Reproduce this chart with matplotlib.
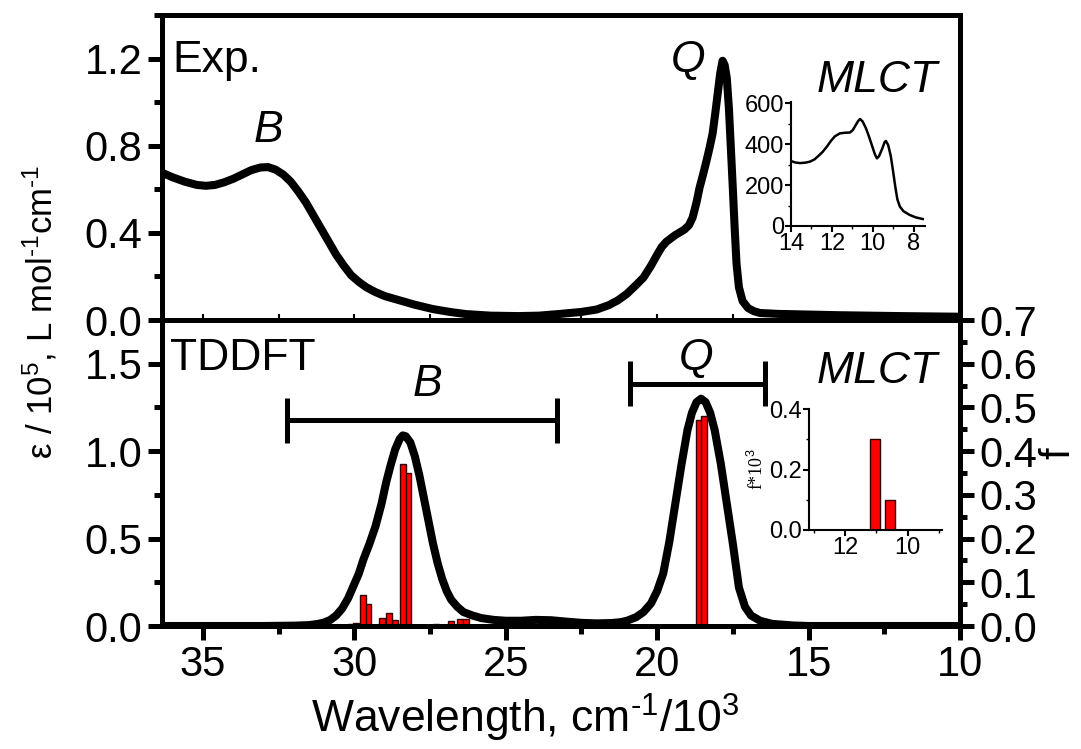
"""
Absorption spectrum: experiment (top) vs TDDFT (bottom) with MLCT insets.
"""

import matplotlib
matplotlib.use("Agg")
import matplotlib.pyplot as plt
from matplotlib.ticker import MultipleLocator

plt.rcParams["font.family"] = ["Liberation Sans", "DejaVu Sans"]
plt.rcParams["mathtext.fontset"] = "custom"
plt.rcParams["mathtext.rm"] = "Liberation Sans"
plt.rcParams["mathtext.it"] = "Liberation Sans:italic"

# experimental spectrum, eps / 1e5
exp_x = [36.35, 36.0, 35.6, 35.2, 34.9, 34.6, 34.3, 34.0, 33.7, 33.4, 33.1,
         32.85, 32.6, 32.35, 32.1, 31.85, 31.6, 31.35, 31.1, 30.85, 30.6,
         30.35, 30.1, 29.85, 29.6, 29.3, 29.0, 28.5, 28.0, 27.4, 26.8, 26.3,
         25.5, 24.6, 23.9, 23.2, 22.5, 22.0, 21.6, 21.3, 21.0, 20.7, 20.45,
         20.2, 20.0, 19.85, 19.69, 19.4, 19.1, 18.95, 18.83, 18.7, 18.6,
         18.48, 18.37, 18.27, 18.17, 18.08, 18.0, 17.92, 17.84, 17.77, 17.7,
         17.63, 17.57, 17.5, 17.44, 17.38, 17.3, 17.18, 17.0, 16.8, 16.6,
         16.0, 15.0, 14.0, 12.0, 10.0]
exp_y = [0.676, 0.655, 0.635, 0.62, 0.616, 0.62, 0.632, 0.648, 0.668, 0.688, 0.7,
         0.702, 0.69, 0.668, 0.635, 0.59, 0.54, 0.48, 0.42, 0.36, 0.30,
         0.25, 0.205, 0.175, 0.15, 0.128, 0.11, 0.09, 0.07, 0.05, 0.036, 0.027,
         0.02, 0.018, 0.02, 0.028, 0.037, 0.048, 0.068, 0.09, 0.12, 0.16, 0.195,
         0.25, 0.30, 0.335, 0.36, 0.39, 0.415, 0.435, 0.47, 0.54, 0.607,
         0.67, 0.731, 0.79, 0.855, 0.95, 1.04, 1.13, 1.19, 1.17, 1.11,
         0.97, 0.80, 0.60, 0.42, 0.26, 0.15, 0.087, 0.055, 0.04, 0.032,
         0.028, 0.025, 0.022, 0.018, 0.015]

# experimental MLCT region (inset), eps in L mol-1 cm-1
mlct_x = [14.0, 13.8, 13.56, 13.3, 13.07, 12.85, 12.68, 12.45, 12.24, 12.05,
          11.85, 11.61, 11.35, 11.12, 10.98, 10.85, 10.72, 10.62, 10.5, 10.35,
          10.2, 10.05, 9.9, 9.8, 9.7, 9.55, 9.42, 9.36, 9.25, 9.12, 9.0, 8.9,
          8.8, 8.68, 8.5, 8.2, 7.9, 7.56]
mlct_y = [317, 310, 307, 309, 314, 325, 340, 362, 388, 415,
          438, 452, 455, 456, 468, 490, 512, 522, 510, 480,
          440, 395, 350, 330, 340, 375, 410, 415, 395, 340, 260, 190,
          130, 95, 72, 54, 42, 34]

# TDDFT broadened spectrum, eps / 1e5
calc_x = [36.35, 33.0, 32.0, 31.5, 31.2, 31.0, 30.8, 30.6, 30.4, 30.2, 30.0,
          29.85, 29.7, 29.5, 29.3, 29.1, 28.95, 28.8, 28.65, 28.5, 28.4, 28.3,
          28.15, 28.0, 27.85, 27.7, 27.55, 27.4, 27.25, 27.1, 26.95, 26.8,
          26.6, 26.4, 26.1, 25.8, 25.4, 25.0, 24.5, 24.0, 23.5, 23.0, 22.5,
          22.0, 21.5, 21.2, 21.0, 20.7, 20.45, 20.2, 20.0, 19.8, 19.6, 19.4,
          19.2, 19.0, 18.85, 18.7, 18.55, 18.4, 18.25, 18.1, 17.9, 17.7, 17.5,
          17.3, 17.1, 16.9, 16.6, 16.2, 15.5, 15.0, 10.0]
calc_y = [0.0, 0.0, 0.002, 0.005, 0.012, 0.02, 0.034, 0.06, 0.10, 0.16, 0.24,
          0.30, 0.38, 0.47, 0.57, 0.70, 0.82, 0.92, 1.01, 1.07, 1.09, 1.085,
          1.05, 0.97, 0.86, 0.73, 0.60, 0.47, 0.36, 0.27, 0.20, 0.15,
          0.11, 0.08, 0.06, 0.045, 0.035, 0.03, 0.03, 0.035, 0.033, 0.025, 0.018,
          0.015, 0.017, 0.022, 0.03, 0.05, 0.08, 0.13, 0.20, 0.30, 0.48, 0.70,
          0.92, 1.12, 1.22, 1.28, 1.30, 1.28, 1.22, 1.12, 0.93, 0.70, 0.47,
          0.22, 0.11, 0.06, 0.03, 0.012, 0.003, 0.0, 0.0]

# TDDFT oscillator strengths
stick_x = [30.1, 29.95, 29.7, 29.55, 29.1, 28.85, 28.65, 28.55, 28.39, 28.24,
           27.55, 27.3, 26.8, 26.5, 26.3, 25.55, 25.35, 24.3, 24.0, 23.6, 23.3,
           18.63, 18.45]
stick_f = [0.004, 0.006, 0.07, 0.05, 0.018, 0.03, 0.014, 0.005, 0.37, 0.35,
           0.003, 0.004, 0.012, 0.015, 0.015, 0.003, 0.002, 0.002, 0.003, 0.002,
           0.003, 0.472, 0.481]

# MLCT transitions, f * 1e3
mlct_stick_x = [11.05, 10.57]
mlct_stick_f = [0.3, 0.1]

# band ranges (bracket markers) in the TDDFT panel
b_range = [32.23, 23.32]
b_level = 1.176
q_range = [20.91, 16.45]
q_level = 1.386

W, H = 1081, 749
fig = plt.figure(figsize=(W / 100, H / 100), dpi=100)

SPINE = 3.6
TICK_FS = 30
TEXT_FS = 32


def fx(px):
    return px / W


def fy(py):
    return 1 - py / H


left, right = 162, 960
ax1 = fig.add_axes([fx(left), fy(320), fx(right - left), (320 - 15) / H])
ax2 = fig.add_axes([fx(left), fy(626), fx(right - left), (626 - 320) / H])

for ax in (ax1, ax2):
    for s in ax.spines.values():
        s.set_linewidth(SPINE)
    ax.set_xlim(36.35, 10)
    ax.xaxis.set_major_locator(MultipleLocator(5))
    ax.xaxis.set_minor_locator(MultipleLocator(2.5))

# top panel: experiment
ax1.plot(exp_x, exp_y, color="black", lw=5.8, solid_joinstyle="round")
ax1.set_ylim(0, 1.4)
ax1.yaxis.set_major_locator(MultipleLocator(0.4))
ax1.yaxis.set_minor_locator(MultipleLocator(0.2))
ax1.tick_params(axis="y", which="major", direction="out", length=10, width=SPINE,
                labelsize=TICK_FS, pad=4)
ax1.tick_params(axis="y", which="minor", direction="out", length=6, width=SPINE)
ax1.tick_params(axis="x", which="both", direction="in", length=4, width=1.5,
                labelbottom=False)
ax1.set_yticks([0.0, 0.4, 0.8, 1.2])
ax1.set_yticklabels(["0.0", "0.4", "0.8", "1.2"])

ax1.text(36.02, 1.19, "Exp.", fontsize=TEXT_FS, ha="left", va="center")
ax1.text(32.85, 0.87, "B", fontsize=TEXT_FS, style="italic", ha="center", va="center")
ax1.text(18.99, 1.19, "Q", fontsize=TEXT_FS, style="italic", ha="center", va="center")
ax1.text(12.72, 1.10, "MLCT", fontsize=TEXT_FS, style="italic", ha="center", va="center")

# bottom panel: TDDFT
ax2.plot(calc_x, calc_y, color="black", lw=5.8, solid_joinstyle="round", zorder=3)
ax2.set_ylim(0, 1.75)
ax2.yaxis.set_major_locator(MultipleLocator(0.5))
ax2.yaxis.set_minor_locator(MultipleLocator(0.25))
ax2.set_yticks([0.0, 0.5, 1.0, 1.5])
ax2.set_yticklabels(["0.0", "0.5", "1.0", "1.5"])
ax2.tick_params(axis="both", which="major", direction="out", length=10, width=SPINE,
                labelsize=TICK_FS, pad=4)
ax2.tick_params(axis="both", which="minor", direction="out", length=6, width=SPINE)
ax2.set_xticks([35, 30, 25, 20, 15, 10])

ax2r = ax2.twinx()
ax2r.set_ylim(0, 0.7)
ax2r.yaxis.set_major_locator(MultipleLocator(0.1))
ax2r.yaxis.set_minor_locator(MultipleLocator(0.05))
ax2r.tick_params(axis="y", which="major", direction="out", length=10, width=SPINE,
                 labelsize=TICK_FS, pad=4)
ax2r.tick_params(axis="y", which="minor", direction="out", length=5, width=SPINE)
ax2r.set_yticks([0.0, 0.1, 0.2, 0.3, 0.4, 0.5, 0.6, 0.7])
ax2r.set_yticklabels(["0.0", "0.1", "0.2", "0.3", "0.4", "0.5", "0.6", "0.7"])
for s in ax2r.spines.values():
    s.set_linewidth(SPINE)

# taller sticks drawn last so they sit on top
order = sorted(range(len(stick_x)), key=lambda i: stick_f[i])
ax2r.bar([stick_x[i] for i in order], [stick_f[i] for i in order], width=0.2,
         color="#ff0000", edgecolor="#330000", linewidth=1.0, zorder=2)
ax2.set_zorder(ax2r.get_zorder() + 1)
ax2.patch.set_visible(False)

# band brackets
for rng, lvl in ((b_range, b_level), (q_range, q_level)):
    ax2.plot(rng, [lvl, lvl], color="black", lw=3.6, solid_capstyle="butt")
    for xv in rng:
        ax2.plot([xv, xv], [lvl - 0.13, lvl + 0.13], color="black", lw=3.6,
                 solid_capstyle="butt")

ax2.text(36.09, 1.53, "TDDFT", fontsize=TEXT_FS, ha="left", va="center")
ax2.text(27.57, 1.38, "B", fontsize=TEXT_FS, style="italic", ha="center", va="center")
ax2.text(18.70, 1.53, "Q", fontsize=TEXT_FS, style="italic", ha="center", va="center")
ax2.text(12.72, 1.455, "MLCT", fontsize=TEXT_FS, style="italic", ha="center", va="center")

# inset: experimental MLCT band
in1 = fig.add_axes([fx(791), fy(226), fx(925 - 791), (226 - 102) / H])
in1.plot(mlct_x, mlct_y, color="black", lw=1.8)
in1.set_xlim(14, 7.45)
in1.set_ylim(0, 605)
in1.set_xticks([14, 12, 10, 8])
in1.set_yticks([0, 200, 400, 600])
in1.xaxis.set_minor_locator(MultipleLocator(1))
in1.yaxis.set_minor_locator(MultipleLocator(100))

# inset: TDDFT MLCT transitions
in2 = fig.add_axes([fx(809), fy(530), fx(942 - 809), (530 - 409) / H])
in2.bar(mlct_stick_x, mlct_stick_f, width=0.32, color="#ff0000",
        edgecolor="#330000", linewidth=1.0)
in2.set_xlim(13.15, 8.9)
in2.set_ylim(0, 0.4)
in2.set_xticks([12, 10])
in2.set_yticks([0.0, 0.2, 0.4])
in2.set_yticklabels(["0.0", "0.2", "0.4"])
in2.xaxis.set_minor_locator(MultipleLocator(1))
in2.yaxis.set_minor_locator(MultipleLocator(0.1))
in2.set_ylabel("f*10$^3$", fontsize=13, family="Liberation Serif", labelpad=2)

for ax in (in1, in2):
    ax.patch.set_visible(False)
    ax.spines["top"].set_visible(False)
    ax.spines["right"].set_visible(False)
    for s in ("left", "bottom"):
        ax.spines[s].set_linewidth(1.5)
    ax.tick_params(which="major", direction="out", length=4, width=1.5,
                   labelsize=17, pad=1)
    ax.tick_params(which="minor", direction="out", length=2.5, width=1.0)

# axis titles
fig.text(fx(40), fy(312), r"ε / 10$^5$, L mol$^{\text{-}1}$cm$^{\text{-}1}$",
         rotation=90, ha="center", va="center", fontsize=25)
fig.text(fx(1058), fy(453), "f", rotation=90, ha="center", va="center",
         fontsize=30)
fig.text(fx(525), fy(718), r"Wavelength, cm$^{\text{-}1}$/10$^3$", ha="center",
         va="center", fontsize=32)

fig.savefig("out.png", dpi=100)
